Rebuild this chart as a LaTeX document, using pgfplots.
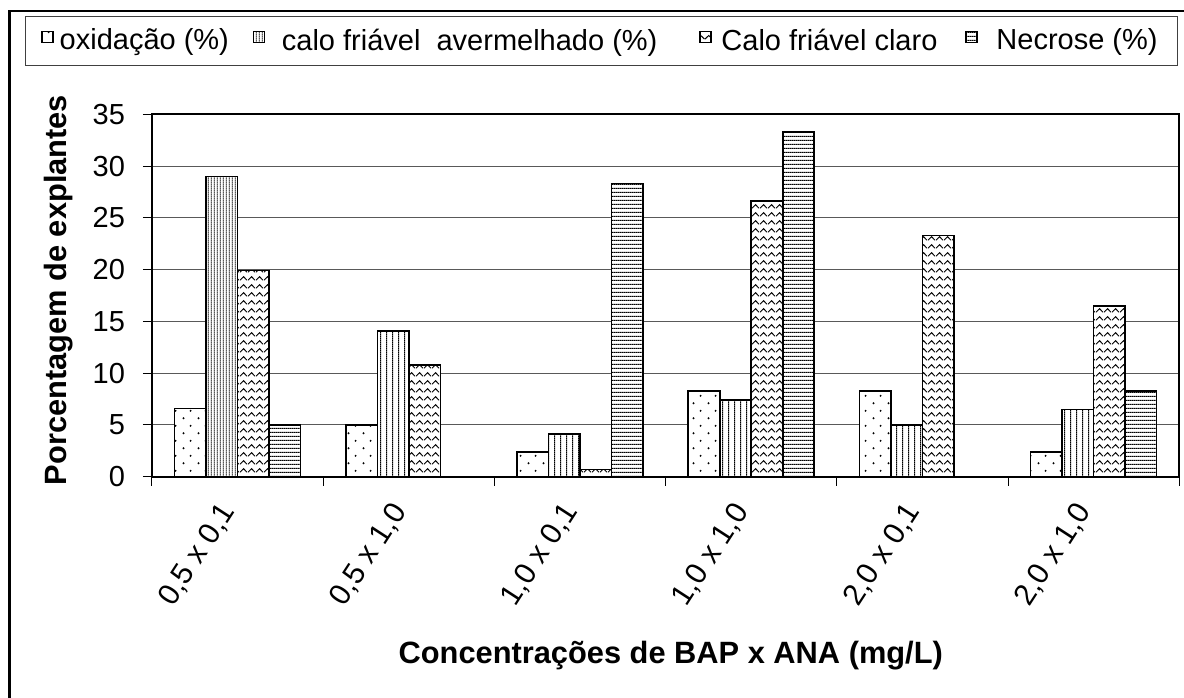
\documentclass[border=0pt]{standalone}
\usepackage{pgfplots}
\pgfplotsset{compat=1.18}
\usepackage{fontspec}
\setmainfont{Liberation Sans}
\usetikzlibrary{patterns.meta}

\tikzdeclarepattern{name=ptdots, type=uncolored,
  bounding box={(0,0) and (7.5pt,7.7pt)}, tile size={(7.5pt,7.7pt)},
  code={\fill (1.875pt,1.925pt) circle (0.55pt); \fill (5.625pt,5.775pt) circle (0.55pt);}}
\tikzdeclarepattern{name=ptvlines, type=uncolored,
  bounding box={(0,0) and (3pt,1pt)}, tile size={(3pt,1pt)},
  code={\draw[line width=0.5pt] (1.5pt,-0.2pt) -- (1.5pt,1.2pt);}}
\tikzdeclarepattern{name=ptvdense, type=uncolored,
  bounding box={(0,0) and (1.6pt,1pt)}, tile size={(1.6pt,1pt)},
  code={\draw[line width=0.45pt] (0.8pt,-0.2pt) -- (0.8pt,1.2pt);}}
\tikzdeclarepattern{name=pthlines, type=uncolored,
  bounding box={(0,0) and (1pt,1.8pt)}, tile size={(1pt,1.8pt)},
  code={\draw[line width=0.6pt] (-0.2pt,0.9pt) -- (1.2pt,0.9pt);}}
\tikzdeclarepattern{name=ptzigzag, type=uncolored,
  bounding box={(0,0) and (3.75pt,4pt)}, tile size={(3.75pt,4pt)},
  code={\draw[line width=0.5pt] (0,1pt) -- (1.875pt,3pt) -- (3.75pt,1pt);}}

\newcommand{\gap}[1]{\rule{#1}{0pt}}

\begin{document}
\begin{tikzpicture}
\useasboundingbox (0,0) rectangle (592pt,348.5pt);
\draw[line width=1.2pt] (4.75pt,-20pt) rectangle (620pt,343pt);
\begin{axis}[
  at={(76pt,110.15pt)}, anchor=south west,
  scale only axis, width=513.65pt, height=181.2pt,
  xmin=-0.5, xmax=5.5, ymin=0, ymax=35,
  ytick={0,5,...,35},
  xtick={0,...,5},
  xticklabels={{0,5 x 0,1},{0,5 x 1,0},{1,0 x 0,1},{1,0 x 1,0},{2,0 x 0,1},{2,0 x 1,0}},
  minor xtick={-0.5,0.5,...,5.5},
  major x tick style={draw=none},
  tick style={black, line width=0.5pt},
  tick align=outside, major tick length=4.5pt, minor tick length=4.5pt,
  xtick pos=bottom, ytick pos=left,
  ymajorgrids, grid style={black!65, line width=0.5pt},
  axis line style={line width=1pt},
  /pgf/number format/assume math mode=true,
  tick label style={font=\fontsize{14.5}{17}\selectfont},
  yticklabel style={xshift=-5.5pt},
  xticklabel style={xshift=-2.5pt, yshift=-7.5pt, rotate=57, anchor=east, font=\fontsize{15}{18}\selectfont},
  ylabel={Porcentagem de explantes},
  xlabel={Concentrações de BAP x ANA (mg/L)},
  label style={font=\fontsize{15.4}{18}\selectfont\bfseries},
  ylabel style={at={(axis description cs:-0.091,0.515)}, anchor=center, rotate=0},
  xlabel style={at={(axis description cs:0.505,-0.494)}, anchor=center},
  ybar, bar width=15.75pt,
  legend image code/.code={\draw[#1, line width=0.5pt] (0pt,-0.8pt) rectangle (5.5pt,4.7pt);},
  legend columns=4,
  legend style={at={(0.4377,1.2027)}, anchor=center, draw=black!75, line width=0.5pt,
    font=\fontsize{14.5}{17}\selectfont, inner xsep=8pt, inner ysep=4pt,
    nodes={inner xsep=0pt},
    /tikz/every even column/.append style={column sep=0pt}},
]
\addplot[bar shift=-23.625pt, draw=black, line width=0.8pt, preaction={fill=white}, pattern=ptdots]
  coordinates {(0,6.6) (1,5.0) (2,2.4) (3,8.3) (4,8.3) (5,2.4)};
\addlegendentry{\gap{3pt}oxidação (\%)\gap{12pt}}
\addplot[bar shift=-7.875pt, draw=black, line width=0.8pt, preaction={fill=white}, pattern=ptvdense]
  coordinates {(0,29.0)};
\addlegendentry{\gap{8.5pt}calo friável\ \ avermelhado (\%)\gap{21pt}}
\addplot[forget plot, bar shift=-7.875pt, draw=black, line width=0.8pt, preaction={fill=white}, pattern=ptvlines]
  coordinates {(1,14.1) (2,4.1) (3,7.4) (4,5.0) (5,6.5)};
\addplot[bar shift=7.875pt, draw=black, line width=0.8pt, preaction={fill=white}, pattern=ptzigzag]
  coordinates {(0,19.9) (1,10.8) (2,0.7) (3,26.6) (4,23.3) (5,16.5)};
\addlegendentry{\gap{5pt}Calo friável claro\gap{14pt}}
\addplot[bar shift=23.625pt, draw=black, line width=0.8pt, preaction={fill=white}, pattern=pthlines]
  coordinates {(0,5.0) (2,28.3) (3,33.3) (5,8.3)};
\addlegendentry{\gap{9.5pt}Necrose (\%)\gap{2pt}}
\end{axis}
\end{tikzpicture}
\end{document}
